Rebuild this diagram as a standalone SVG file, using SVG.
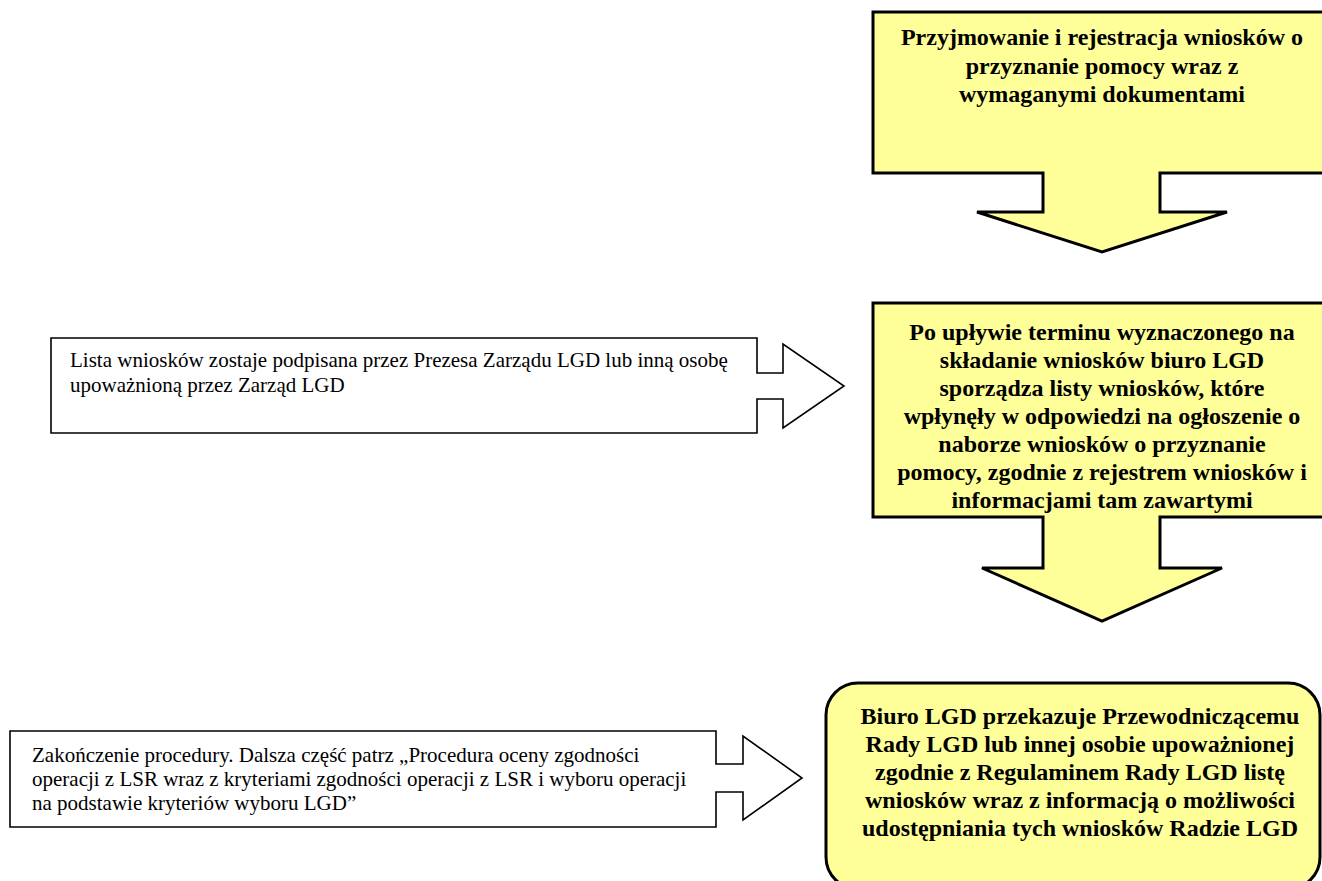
<svg xmlns="http://www.w3.org/2000/svg" width="1322" height="881" viewBox="0 0 1322 881">
<style>
.yel{fill:#FFFF99;stroke:#000;stroke-width:3;stroke-linejoin:miter}
.wht{fill:#fff;stroke:#000;stroke-width:1.6;stroke-linejoin:miter}
.b{font-family:"Liberation Serif","Times New Roman",serif;font-weight:bold;font-size:24px;fill:#000;text-anchor:middle}
.r{font-family:"Liberation Serif","Times New Roman",serif;font-size:21px;fill:#000}
</style>
<rect width="1322" height="881" fill="#fff"/>
<g id="node-przyjmowanie">
<path class="yel" d="M873,12 H1335 V173 H1160 V212 H1227 L1102,252 L977,212 H1043 V173 H873 Z"/>
<text class="b" x="1102" y="45">Przyjmowanie i rejestracja wniosków o</text>
<text class="b" x="1102" y="74">przyznanie pomocy wraz z</text>
<text class="b" x="1102" y="102">wymaganymi dokumentami</text>
</g>
<g id="node-listy">
<path class="yel" d="M873,303 H1335 V517 H1160 V568 H1222 L1102,621 L982,568 H1043 V517 H873 Z"/>
<text class="b" x="1102" y="340">Po upływie terminu wyznaczonego na</text>
<text class="b" x="1102" y="368">składanie wniosków biuro LGD</text>
<text class="b" x="1102" y="396">sporządza listy wniosków, które</text>
<text class="b" x="1102" y="424">wpłynęły w odpowiedzi na ogłoszenie o</text>
<text class="b" x="1102" y="452">naborze wniosków o przyznanie</text>
<text class="b" x="1102" y="480">pomocy, zgodnie z rejestrem wniosków i</text>
<text class="b" x="1102" y="508">informacjami tam zawartymi</text>
</g>
<g id="node-biuro">
<rect class="yel" x="826" y="683" width="494" height="206" rx="32" ry="32"/>
<text class="b" x="1080" y="724">Biuro LGD przekazuje Przewodniczącemu</text>
<text class="b" x="1080" y="752">Rady LGD lub innej osobie upoważnionej</text>
<text class="b" x="1080" y="780">zgodnie z Regulaminem Rady LGD listę</text>
<text class="b" x="1080" y="808">wniosków wraz z informacją o możliwości</text>
<text class="b" x="1080" y="836">udostępniania tych wniosków Radzie LGD</text>
</g>
<g id="node-podpis">
<path class="wht" d="M51,338 H757 V373 H783 V344 L844,386 L783,428 V399 H757 V433 H51 Z"/>
<text class="r" x="70" y="367">Lista wniosków zostaje podpisana przez Prezesa Zarządu LGD lub inną osobę</text>
<text class="r" x="70" y="392">upoważnioną przez Zarząd LGD</text>
</g>
<g id="node-zakonczenie">
<path class="wht" d="M10,731 H716 V764 H743 V736 L802,778 L743,820 V792 H716 V827 H10 Z"/>
<text class="r" x="32" y="762">Zakończenie procedury. Dalsza część patrz „Procedura oceny zgodności</text>
<text class="r" x="32" y="786">operacji z LSR wraz z kryteriami zgodności operacji z LSR i wyboru operacji</text>
<text class="r" x="32" y="810">na podstawie kryteriów wyboru LGD”</text>
</g>
<g id="connectors"></g>
</svg>
